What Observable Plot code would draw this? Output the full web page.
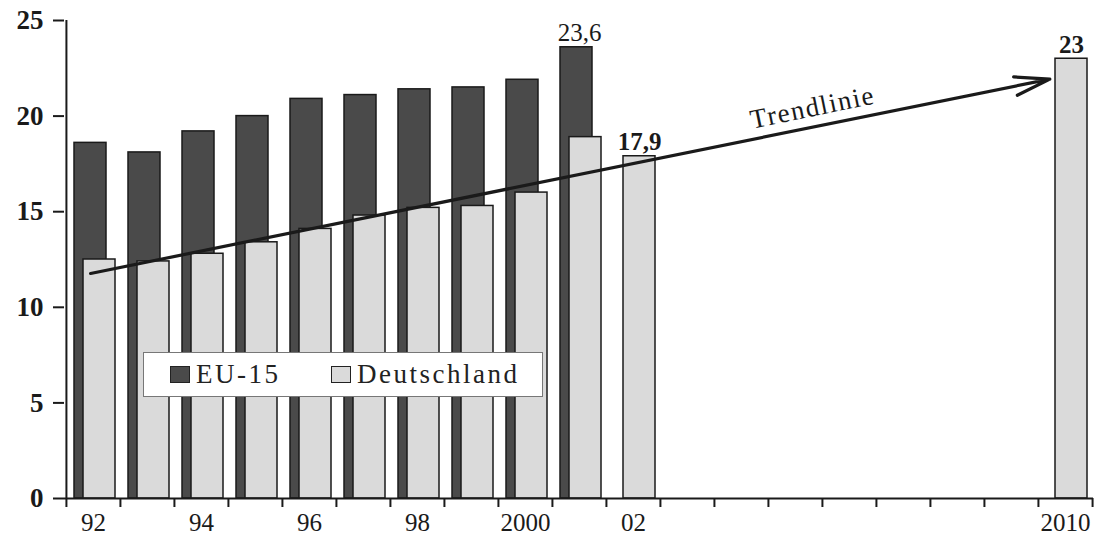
<!DOCTYPE html>
<html>
<head>
<meta charset="utf-8">
<script src="https://cdn.jsdelivr.net/npm/d3@7"></script>
<script src="https://cdn.jsdelivr.net/npm/@observablehq/plot@0.6"></script>
<style>
  html, body { margin: 0; padding: 0; background: #fff; }
  #wrap { position: relative; width: 1096px; height: 541px; }
  #legend {
    position: absolute; left: 143px; top: 352px; width: 398px; height: 43px;
    background: #fff; border: 1px solid #777; box-sizing: content-box;
    font-family: "Liberation Serif", serif; font-size: 27px; color: #222;
  }
  .item { position: absolute; top: 6px; display: flex; align-items: center; height: 30px; letter-spacing: 2.5px; }
  .sw { display: inline-block; width: 18px; height: 15px; border: 1.5px solid #222; margin-right: 6px; }
</style>
</head>
<body>
<div id="wrap"></div>
<script>
// ---- data ----
const years = [1992, 1993, 1994, 1995, 1996, 1997, 1998, 1999, 2000, 2001, 2002,
               2003, 2004, 2005, 2006, 2007, 2008, 2009, 2010];
const labelYears = [1992, 1994, 1996, 1998, 2000, 2002, 2010];
const labelText = ["92", "94", "96", "98", "2000", "02", "2010"];
const euYears = [1992, 1993, 1994, 1995, 1996, 1997, 1998, 1999, 2000, 2001];
const euValues = [18.6, 18.1, 19.2, 20.0, 20.9, 21.1, 21.4, 21.5, 21.9, 23.6];
const deYears = [1992, 1993, 1994, 1995, 1996, 1997, 1998, 1999, 2000, 2001, 2002, 2010];
const deValues = [12.5, 12.4, 12.8, 13.4, 14.1, 14.8, 15.2, 15.3, 16.0, 18.9, 17.9, 23.0];
const yTicks = [0, 5, 10, 15, 20, 25];
const trendFrom = {year: 1992, value: 11.8};
const trendTo = {year: 2010, value: 22.1};
const seriesNames = ["EU-15", "Deutschland"];

const eu = euYears.map((y, i) => ({year: y, value: euValues[i]}));
const de = deYears.map((y, i) => ({year: y, value: deValues[i]}));
const labelMap = new Map(labelYears.map((y, i) => [y, labelText[i]]));

const W = 1096, H = 541, mL = 64, mR = 3;
const bw = (W - mL - mR) / years.length;
const serif = "Liberation Serif, Times New Roman, serif";
const euFill = "#4a4a4a", deFill = "#dadada", ink = "#1a1a1a";

const chart = Plot.plot({
  width: W, height: H,
  marginLeft: mL, marginRight: mR, marginTop: 20, marginBottom: 43,
  style: {fontFamily: serif, background: "#fff", color: ink},
  x: {type: "band", domain: years, padding: 0, label: null},
  y: {domain: [0, 25], label: null},
  marks: [
    Plot.barY(eu, {x: "year", y: "value", fill: euFill, stroke: ink, strokeWidth: 1.5, insetLeft: 8, insetRight: 14}),
    Plot.barY(de, {x: "year", y: "value", fill: deFill, stroke: ink, strokeWidth: 1.5, insetLeft: 17, insetRight: 5}),
    Plot.ruleY([0], {stroke: ink, strokeWidth: 2}),
    Plot.ruleX([years[0]], {dx: -bw / 2, stroke: ink, strokeWidth: 2}),
    Plot.axisY({ticks: yTicks, label: null, tickSize: 11, tickPadding: 10, fontSize: 27, fontWeight: "bold", stroke: ink, strokeWidth: 2, fill: ink}),
    Plot.axisX(years, {label: null, tickSize: 9, tickFormat: () => "", dx: -bw / 2, stroke: ink, strokeWidth: 2}),
    Plot.axisX([years[years.length - 1]], {label: null, tickSize: 9, tickFormat: () => "", dx: bw / 2, stroke: ink, strokeWidth: 2}),
    Plot.axisX(labelYears, {label: null, tickSize: 0, tickPadding: 15, tickFormat: d => labelMap.get(d), fontSize: 25, fill: ink}),
    Plot.arrow([0], {x1: () => trendFrom.year, y1: () => trendFrom.value, x2: () => trendTo.year, y2: () => trendTo.value,
      stroke: ink, strokeWidth: 3.2, headLength: 17, headAngle: 30, insetStart: -3, insetEnd: 16}),
    Plot.text(["Trendlinie"], {x: () => 2005, y: () => 20.45, text: d => d, dx: 17, rotate: -11.6, fontSize: 27, fill: ink}),
    Plot.text(eu.filter(d => d.year === 2001), {x: "year", y: "value", text: d => d3.format(".1f")(d.value).replace(".", ","),
      dx: 0, dy: -6, lineAnchor: "bottom", fontSize: 25, fill: ink}),
    Plot.text(de.filter(d => d.year === 2002 || d.year === 2010), {x: "year", y: "value",
      text: d => d.year === 2010 ? String(d.value) : d3.format(".1f")(d.value).replace(".", ","),
      dx: 6, dy: -6, lineAnchor: "bottom", fontSize: 25, fontWeight: "bold", fill: ink})
  ]
});

const wrap = document.getElementById("wrap");
wrap.appendChild(chart);
d3.select(chart).selectAll("text").filter(function() { return this.textContent === "Trendlinie"; })
  .style("letter-spacing", "1.5px");

const legend = document.createElement("div");
legend.id = "legend";
legend.innerHTML =
  `<div class="item" style="left:26px"><span class="sw" style="background:${euFill}"></span>${seriesNames[0]}</div>` +
  `<div class="item" style="left:187px"><span class="sw" style="background:${deFill}"></span>${seriesNames[1]}</div>`;
wrap.appendChild(legend);
</script>
</body>
</html>
